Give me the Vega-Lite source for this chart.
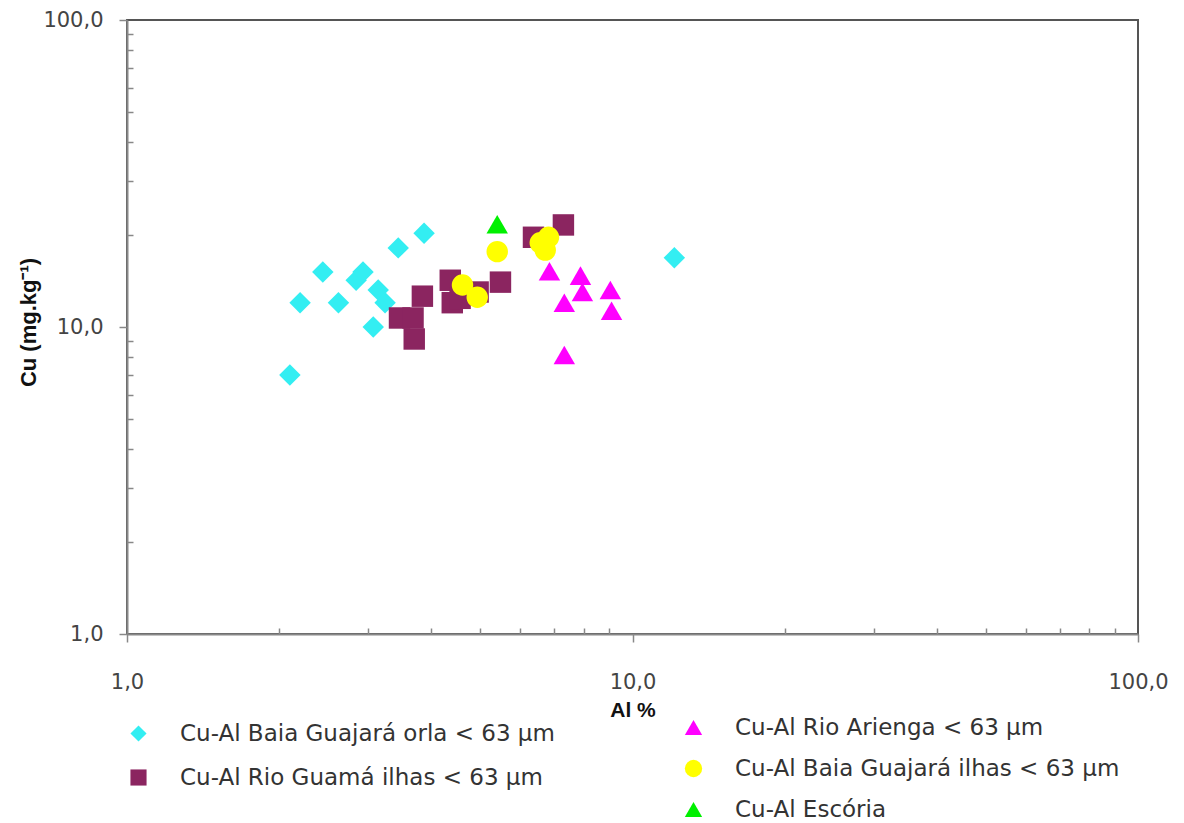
{
  "$schema": "https://vega.github.io/schema/vega-lite/v6.json",
  "width": 1011,
  "height": 614,
  "autosize": "none",
  "padding": {"left": 127, "top": 20, "right": 46, "bottom": 189},
  "background": "white",
  "config": {"view": {"stroke": "#555555", "strokeWidth": 2}},
  "datasets": {
    "a": [
      {"series": "Cu-Al Baia Guajará orla < 63 µm", "al": 2.10, "cu": 6.98},
      {"series": "Cu-Al Baia Guajará orla < 63 µm", "al": 2.20, "cu": 12.0},
      {"series": "Cu-Al Baia Guajará orla < 63 µm", "al": 2.44, "cu": 15.1},
      {"series": "Cu-Al Baia Guajará orla < 63 µm", "al": 2.62, "cu": 12.0},
      {"series": "Cu-Al Baia Guajará orla < 63 µm", "al": 2.84, "cu": 14.2},
      {"series": "Cu-Al Baia Guajará orla < 63 µm", "al": 2.93, "cu": 15.1},
      {"series": "Cu-Al Baia Guajará orla < 63 µm", "al": 3.14, "cu": 13.2},
      {"series": "Cu-Al Baia Guajará orla < 63 µm", "al": 3.24, "cu": 12.0},
      {"series": "Cu-Al Baia Guajará orla < 63 µm", "al": 3.07, "cu": 10.0},
      {"series": "Cu-Al Baia Guajará orla < 63 µm", "al": 3.44, "cu": 18.1},
      {"series": "Cu-Al Baia Guajará orla < 63 µm", "al": 3.87, "cu": 20.2},
      {"series": "Cu-Al Baia Guajará orla < 63 µm", "al": 12.1, "cu": 16.8},
      {"series": "Cu-Al Rio Guamá ilhas < 63 µm", "al": 3.46, "cu": 10.7},
      {"series": "Cu-Al Rio Guamá ilhas < 63 µm", "al": 3.68, "cu": 10.7},
      {"series": "Cu-Al Rio Guamá ilhas < 63 µm", "al": 3.70, "cu": 9.14},
      {"series": "Cu-Al Rio Guamá ilhas < 63 µm", "al": 3.84, "cu": 12.6},
      {"series": "Cu-Al Rio Guamá ilhas < 63 µm", "al": 4.36, "cu": 14.2},
      {"series": "Cu-Al Rio Guamá ilhas < 63 µm", "al": 4.40, "cu": 12.0},
      {"series": "Cu-Al Rio Guamá ilhas < 63 µm", "al": 4.56, "cu": 12.4},
      {"series": "Cu-Al Rio Guamá ilhas < 63 µm", "al": 4.95, "cu": 13.0},
      {"series": "Cu-Al Rio Guamá ilhas < 63 µm", "al": 5.48, "cu": 14.0},
      {"series": "Cu-Al Rio Guamá ilhas < 63 µm", "al": 6.37, "cu": 19.6},
      {"series": "Cu-Al Rio Guamá ilhas < 63 µm", "al": 7.30, "cu": 21.5}
    ],
    "b": [
      {"series": "Cu-Al Rio Arienga < 63 µm", "al": 6.85, "cu": 15.2},
      {"series": "Cu-Al Rio Arienga < 63 µm", "al": 7.89, "cu": 14.7},
      {"series": "Cu-Al Rio Arienga < 63 µm", "al": 7.96, "cu": 13.0},
      {"series": "Cu-Al Rio Arienga < 63 µm", "al": 7.33, "cu": 12.0},
      {"series": "Cu-Al Rio Arienga < 63 µm", "al": 9.04, "cu": 13.2},
      {"series": "Cu-Al Rio Arienga < 63 µm", "al": 9.09, "cu": 11.3},
      {"series": "Cu-Al Rio Arienga < 63 µm", "al": 7.33, "cu": 8.11},
      {"series": "Cu-Al Baia Guajará ilhas < 63 µm", "al": 4.61, "cu": 13.7},
      {"series": "Cu-Al Baia Guajará ilhas < 63 µm", "al": 4.93, "cu": 12.5},
      {"series": "Cu-Al Baia Guajará ilhas < 63 µm", "al": 5.40, "cu": 17.6},
      {"series": "Cu-Al Baia Guajará ilhas < 63 µm", "al": 6.57, "cu": 18.8},
      {"series": "Cu-Al Baia Guajará ilhas < 63 µm", "al": 6.82, "cu": 19.6},
      {"series": "Cu-Al Baia Guajará ilhas < 63 µm", "al": 6.72, "cu": 17.8},
      {"series": "Cu-Al Escória", "al": 5.40, "cu": 21.6}
    ]
  },
  "layer": [
    {
      "mark": {"type": "rule", "color": "#444444", "strokeWidth": 2},
      "encoding": {
        "y": {"datum": 10, "type": "quantitative", "scale": {"type": "log", "domain": [1, 100], "nice": false}}
      }
    },
    {
      "data": {"name": "a"},
      "mark": {"type": "point", "filled": true, "opacity": 1, "size": 460},
      "encoding": {
        "x": {
          "field": "al", "type": "quantitative",
          "scale": {"type": "log", "domain": [1, 100], "nice": false},
          "axis": {
            "title": "Al %",
            "values": [1, 2, 3, 4, 5, 6, 7, 8, 9, 10, 20, 30, 40, 50, 60, 70, 80, 90, 100],
            "labelExpr": "datum.value == 1 ? '1,0' : datum.value == 10 ? '10,0' : datum.value == 100 ? '100,0' : ''",
            "grid": false,
            "domainColor": "#888888", "domainWidth": 2,
            "tickColor": "#888888", "tickWidth": 1.5,
            "tickSize": {"condition": {"test": "datum.value == 1 || datum.value == 10 || datum.value == 100", "value": 8}, "value": -6},
            "labelFont": "DejaVu Sans", "labelFontSize": 21, "labelColor": "#444444",
            "labelPadding": 29, "labelFlush": false, "labelOverlap": false,
            "titleFont": "Liberation Sans", "titleFontWeight": "bold", "titleFontSize": 21, "titleColor": "#111111",
            "titleY": 65
          }
        },
        "y": {
          "field": "cu", "type": "quantitative",
          "scale": {"type": "log", "domain": [1, 100], "nice": false},
          "axis": {
            "title": "Cu (mg.kg⁻¹)",
            "values": [1, 2, 3, 4, 5, 6, 7, 8, 9, 10, 20, 30, 40, 50, 60, 70, 80, 90, 100],
            "labelExpr": "datum.value == 1 ? '1,0' : datum.value == 10 ? '10,0' : datum.value == 100 ? '100,0' : ''",
            "grid": false,
            "domainColor": "#888888", "domainWidth": 2,
            "tickColor": "#888888", "tickWidth": 1.5,
            "tickSize": {"condition": {"test": "datum.value == 1 || datum.value == 10 || datum.value == 100", "value": 8}, "value": -6},
            "labelFont": "DejaVu Sans", "labelFontSize": 21, "labelColor": "#444444",
            "labelPadding": 16, "labelFlush": false, "labelOverlap": false,
            "titleFont": "Liberation Sans", "titleFontWeight": "bold", "titleFontSize": 22, "titleColor": "#111111",
            "titleX": -99, "titleY": 302, "titleAngle": 270, "titleAlign": "center", "titleBaseline": "middle"
          }
        },
        "color": {
          "field": "series", "type": "nominal",
          "scale": {"domain": ["Cu-Al Baia Guajará orla < 63 µm", "Cu-Al Rio Guamá ilhas < 63 µm"], "range": ["#33EEF2", "#8B2560"]},
          "legend": {
            "orient": "none", "legendX": 0, "legendY": 702, "title": null,
            "labelFont": "DejaVu Sans", "labelFontSize": 23, "labelColor": "#333333",
            "symbolSize": 260, "symbolStrokeWidth": 0, "rowPadding": 20, "labelOffset": 30, "labelLimit": 700
          }
        },
        "shape": {
          "field": "series", "type": "nominal",
          "scale": {"domain": ["Cu-Al Baia Guajará orla < 63 µm", "Cu-Al Rio Guamá ilhas < 63 µm"], "range": ["diamond", "square"]},
          "legend": {
            "orient": "none", "legendX": 0, "legendY": 702, "title": null,
            "labelFont": "DejaVu Sans", "labelFontSize": 23, "labelColor": "#333333",
            "symbolSize": 260, "symbolStrokeWidth": 0, "rowPadding": 20, "labelOffset": 30, "labelLimit": 700
          }
        }
      }
    },
    {
      "data": {"name": "b"},
      "mark": {"type": "point", "filled": true, "opacity": 1, "size": 460},
      "encoding": {
        "x": {"field": "al", "type": "quantitative", "scale": {"type": "log", "domain": [1, 100], "nice": false}},
        "y": {"field": "cu", "type": "quantitative", "scale": {"type": "log", "domain": [1, 100], "nice": false}},
        "color": {
          "field": "series", "type": "nominal",
          "scale": {"domain": ["Cu-Al Rio Arienga < 63 µm", "Cu-Al Baia Guajará ilhas < 63 µm", "Cu-Al Escória"], "range": ["#FF00FF", "#FFFF00", "#00F000"]},
          "legend": {
            "orient": "none", "legendX": 555, "legendY": 696, "title": null,
            "labelFont": "DejaVu Sans", "labelFontSize": 23, "labelColor": "#333333",
            "symbolSize": 300, "symbolStrokeWidth": 0, "rowPadding": 17, "labelOffset": 30, "labelLimit": 700
          }
        },
        "shape": {
          "field": "series", "type": "nominal",
          "scale": {"domain": ["Cu-Al Rio Arienga < 63 µm", "Cu-Al Baia Guajará ilhas < 63 µm", "Cu-Al Escória"], "range": ["triangle-up", "circle", "triangle-up"]},
          "legend": {
            "orient": "none", "legendX": 555, "legendY": 696, "title": null,
            "labelFont": "DejaVu Sans", "labelFontSize": 23, "labelColor": "#333333",
            "symbolSize": 300, "symbolStrokeWidth": 0, "rowPadding": 17, "labelOffset": 30, "labelLimit": 700
          }
        }
      }
    }
  ],
  "resolve": {"scale": {"color": "independent", "shape": "independent"}, "legend": {"color": "independent", "shape": "independent"}}
}
